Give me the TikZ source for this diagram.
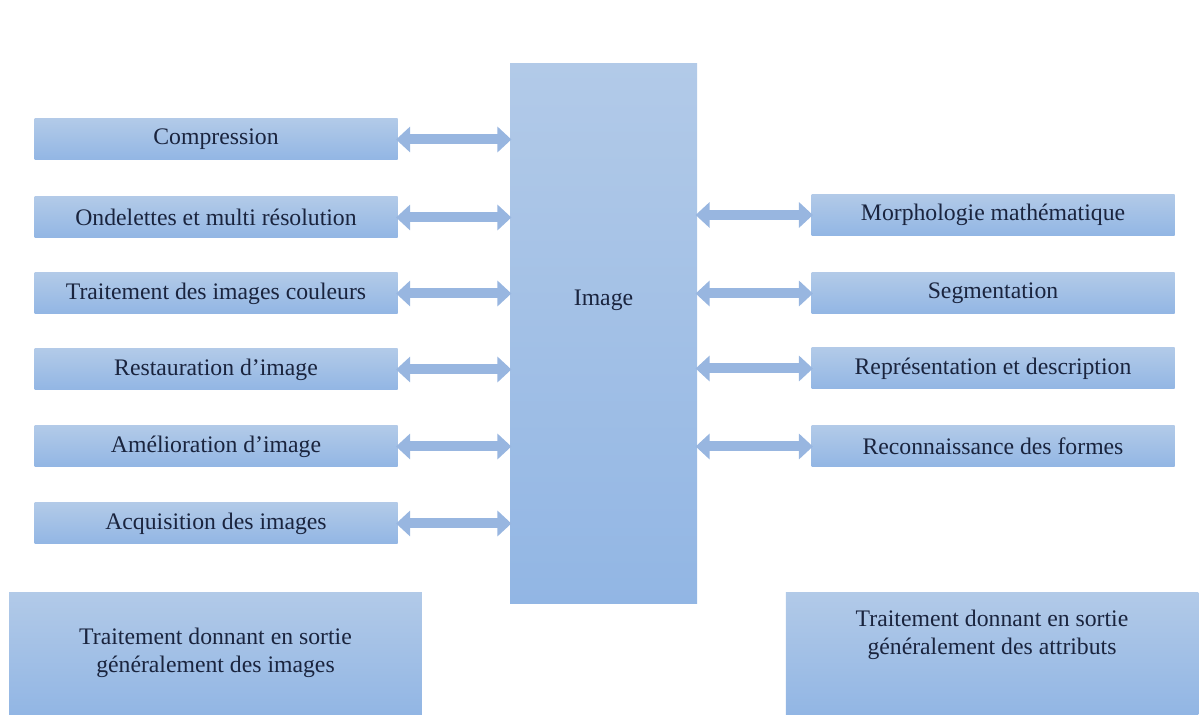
\documentclass[tikz,border=0pt]{standalone}
\usepackage{fontspec}
\setmainfont{Liberation Serif}
\usepackage{tikz}
\usetikzlibrary{arrows.meta,positioning,calc}
\definecolor{boxtop}{RGB}{178,202,232}
\definecolor{boxbot}{RGB}{146,182,228}
\definecolor{arrcol}{RGB}{152,182,224}
\definecolor{txtcol}{RGB}{26,36,62}

\begin{document}
\begin{tikzpicture}[
  blk/.style={top color=boxtop,bottom color=boxbot,minimum height=0.82cm,minimum width=7.26cm,inner sep=2pt,align=center,text=txtcol,font=\fontsize{13.5}{16}\selectfont},
  big/.style={blk,minimum height=2.44cm,minimum width=8.25cm},
  dbl/.style={{Triangle[width=0.5cm,length=0.28cm]}-{Triangle[width=0.5cm,length=0.28cm]},line width=0.2cm,draw=arrcol,shorten <=-1pt,shorten >=-1pt}]
\useasboundingbox (0,0) rectangle (24,14.32);
% central block
\node[blk,minimum width=3.74cm,minimum height=10.78cm,label={[text=txtcol,font=\fontsize{13.5}{16}\selectfont,yshift=0.66cm]center:Image}] (img) at (12.07,7.65) {};
% left column
\node[blk] (cmp) at (4.32,11.53) {Compression};
\node[blk] (ond) at (4.32,9.97) {Ondelettes et multi résolution};
\node[blk] (col) at (4.32,8.45) {Traitement des images couleurs};
\node[blk] (res) at (4.32,6.93) {Restauration d’image};
\node[blk] (ame) at (4.32,5.39) {Amélioration d’image};
\node[blk] (acq) at (4.32,3.85) {Acquisition des images};
% right column
\node[blk] (mor) at (19.86,10.02) {Morphologie mathématique};
\node[blk] (seg) at (19.86,8.45) {Segmentation};
\node[blk] (rep) at (19.86,6.95) {Représentation et description};
\node[blk] (rec) at (19.86,5.39) {Reconnaissance des formes};
% bottom
\node[big] (outi) at (4.31,1.26) {Traitement donnant en sortie\\généralement des images};
\node[big,label={[text=txtcol,align=center,font=\fontsize{13.5}{16}\selectfont,yshift=0.36cm]center:Traitement donnant en sortie\\généralement des attributs}] (outa) at (19.84,1.26) {};
% links
\draw[dbl] (cmp.east) -- (cmp.east -| img.west);
\draw[dbl] (ond.east) -- (ond.east -| img.west);
\draw[dbl] (col.east) -- (col.east -| img.west);
\draw[dbl] (res.east) -- (res.east -| img.west);
\draw[dbl] (ame.east) -- (ame.east -| img.west);
\draw[dbl] (acq.east) -- (acq.east -| img.west);
\draw[dbl] (mor.west -| img.east) -- (mor.west);
\draw[dbl] (seg.west -| img.east) -- (seg.west);
\draw[dbl] (rep.west -| img.east) -- (rep.west);
\draw[dbl] (rec.west -| img.east) -- (rec.west);
\end{tikzpicture}
\end{document}
